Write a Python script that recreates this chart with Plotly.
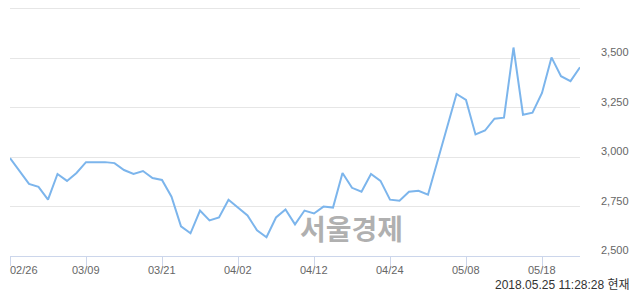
import plotly.graph_objects as go

dates = ["02/26","02/27","02/28","03/02","03/05","03/06","03/07","03/08","03/09",
         "03/12","03/13","03/14","03/15","03/16","03/19","03/20","03/21",
         "03/22","03/23","03/26","03/27","03/28","03/29","03/30","04/02",
         "04/03","04/04","04/05","04/06","04/09","04/10","04/11","04/12",
         "04/13","04/16","04/17","04/18","04/19","04/20","04/23","04/24",
         "04/25","04/26","04/27","04/30","05/02","05/03","05/04","05/08",
         "05/09","05/10","05/11","05/14","05/15","05/16","05/17","05/18",
         "05/21","05/23","05/24","05/25"]
prices = [2995, 2930, 2865, 2850, 2785, 2915, 2880, 2920, 2975,
          2975, 2975, 2970, 2935, 2915, 2930, 2895, 2885,
          2800, 2650, 2615, 2730, 2680, 2695, 2785, 2745,
          2705, 2630, 2595, 2695, 2735, 2660, 2730, 2715,
          2750, 2745, 2920, 2845, 2825, 2915, 2880, 2785,
          2780, 2825, 2830, 2810, 2980, 3150, 3320, 3290,
          3115, 3135, 3195, 3200, 3555, 3215, 3225, 3325,
          3505, 3410, 3385, 3455]
tick_labels = ["02/26","03/09","03/21","04/02","04/12","04/24","05/08","05/18"]
y_ticks = [2500, 2750, 3000, 3250, 3500, 3750]
y_text = ["2,500", "2,750", "3,000", "3,250", "3,500", ""]

fig = go.Figure()
fig.add_trace(go.Scatter(x=dates, y=prices, mode="lines",
                         line=dict(color="#7cb5ec", width=2), hoverinfo="skip"))

font_lbl = dict(family="Liberation Sans, Noto Sans CJK KR", size=11, color="#666666")
annotations = []
for i, t in enumerate(tick_labels):
    annotations.append(dict(x=t, y=0, xref="x", yref="paper", text=t,
                            showarrow=False, yanchor="top", yshift=-6,
                            xanchor="left" if i == 0 else "center",
                            xshift=-2 if i == 0 else 0, font=font_lbl))
for v, t in zip(y_ticks, y_text):
    if t:
        annotations.append(dict(x=1, y=v, xref="paper", yref="y", text=t,
                                showarrow=False, xanchor="left", yanchor="middle",
                                xshift=19, yshift=6, font=font_lbl))
annotations.append(dict(x=0.5, y=0, xref="paper", yref="paper", text="<b>서울경제</b>",
                        showarrow=False, xanchor="center", yanchor="bottom", xshift=56, yshift=6,
                        font=dict(family="Noto Sans CJK KR", size=28, color="rgba(150,150,150,0.75)")))
annotations.append(dict(x=1, y=0, xref="paper", yref="paper", text="2018.05.25 11:28:28 현재",
                        showarrow=False, xanchor="right", yanchor="top", xshift=52, yshift=-20,
                        font=dict(family="Liberation Sans, Noto Sans CJK KR", size=12, color="#333333")))

fig.update_layout(
    width=640, height=294,
    margin=dict(l=10, r=60, t=7, b=38),
    paper_bgcolor="white", plot_bgcolor="white",
    showlegend=False,
    annotations=annotations,
    xaxis=dict(type="category", range=[0, len(dates) - 1],
               tickvals=tick_labels, ticktext=[""] * len(tick_labels),
               showgrid=False, showline=True, linecolor="#ccd6eb", linewidth=1,
               ticks="outside", ticklen=9, tickcolor="#ccd6eb", tickwidth=1,
               zeroline=False, fixedrange=True),
    yaxis=dict(range=[2500, 3760], side="right", tickvals=y_ticks, showticklabels=False,
               showgrid=True, gridcolor="#e6e6e6", gridwidth=1,
               ticks="", zeroline=False, showline=False, fixedrange=True),
)
fig.write_html("out.html")
